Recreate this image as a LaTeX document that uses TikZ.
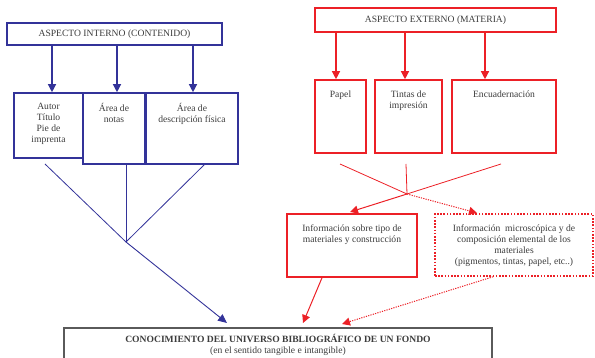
\documentclass[tikz,border=0pt]{standalone}
\usepackage{fontspec}
\setmainfont{Liberation Serif}
\usetikzlibrary{arrows.meta}
\definecolor{azul}{RGB}{51,51,153}
\definecolor{rojo}{RGB}{236,32,38}
\definecolor{gris}{RGB}{90,90,90}
\definecolor{texto}{RGB}{60,60,60}
\begin{document}
\begin{tikzpicture}[x=1pt,y=-1pt,
  font=\fontsize{9.6}{11}\selectfont, text=texto,
  box/.style={rectangle, inner sep=0pt, line width=1.6pt},
  bbox/.style={box, draw=azul},
  rbox/.style={box, draw=rojo},
  rdbox/.style={box, draw=rojo, dash pattern=on 1.6pt off 1.6pt},
  toptext/.style={label={[anchor=north, yshift=-9pt, align=center, text=texto, inner sep=2pt]north:#1}},
  barr/.style={draw=azul, line width=1.3pt, -{Triangle[length=8pt,width=8pt]}},
  bline/.style={draw=azul, line width=0.8pt},
  rarr/.style={draw=rojo, line width=1.3pt, -{Triangle[length=8pt,width=8pt]}},
  rline/.style={draw=rojo, line width=0.8pt},
  rarr2/.style={draw=rojo, line width=1pt, -{Triangle[length=8pt,width=8pt]}},
  rdarr/.style={draw=rojo, line width=1pt, dash pattern=on 1.2pt off 1.2pt, -{Triangle[length=8pt,width=8pt]}},
  bjarr/.style={draw=azul, line width=0.9pt, -{Triangle[length=9pt,width=8pt]}}]
\useasboundingbox (0,0) rectangle (595,358);

% Blue side
\node[bbox, minimum width=215pt, minimum height=22pt] (ai) at (114.5,34) {ASPECTO INTERNO (CONTENIDO)};
\node[bbox, minimum width=69pt, minimum height=65pt, toptext={Autor\\Título\\Pie de\\imprenta}] (b1) at (48.5,125.5) {};
\node[bbox, minimum width=62pt, minimum height=71pt, toptext={Área de\\notas}] (b2) at (114,128.5) {};
\node[bbox, minimum width=92pt, minimum height=71pt, toptext={Área de\\descripción física}] (b3) at (192,128.5) {};

\draw[barr] (ai.south -| 52,0) -- (b1.north -| 52,0);
\draw[barr] (ai.south -| 117,0) -- (b2.north -| 117,0);
\draw[barr] (ai.south -| 193,0) -- (b3.north -| 193,0);

\coordinate (bs1) at (45,164);
\coordinate (bs2) at (126,164);
\coordinate (bs3) at (205,164);
\coordinate (bj) at (126,242);
\draw[bline] (bs1) -- (bj);
\draw[bline] (bs2) -- (bj);
\draw[bline] (bs3) -- (bj);

% Red side
\node[rbox, minimum width=241pt, minimum height=24pt] (ae) at (435.5,20) {ASPECTO EXTERNO (MATERIA)};
\node[rbox, minimum width=51pt, minimum height=73pt, toptext={Papel}] (r1) at (340.5,116.5) {};
\node[rbox, minimum width=67pt, minimum height=73pt, toptext={Tintas de\\impresión}] (r2) at (408.5,116.5) {};
\node[rbox, minimum width=104pt, minimum height=73pt, toptext={Encuadernación}] (r3) at (504,116.5) {};

\draw[rarr] (ae.south -| 336,0) -- (r1.north -| 336,0);
\draw[rarr] (ae.south -| 405,0) -- (r2.north -| 405,0);
\draw[rarr] (ae.south -| 485,0) -- (r3.north -| 485,0);

\coordinate (rs1) at (340,164);
\coordinate (rs2) at (406,164);
\coordinate (rs3) at (501,164);
\coordinate (rj) at (407,194);
\draw[rline] (rs1) -- (rj);
\draw[rline] (rs2) -- (rj);
\draw[rline] (rs3) -- (rj);

\node[rbox, minimum width=130pt, minimum height=63pt,
  toptext={Información sobre tipo de\\materiales y construcción}] (i1) at (352,245.5) {};
\node[rdbox, minimum width=158pt, minimum height=62pt,
  toptext={Información \ microscópica y de\\composición elemental de los\\materiales\\(pigmentos, tintas, papel, etc..)}] (i2) at (514,245) {};

\coordinate (t1) at (350,212);
\coordinate (t2) at (477,213);
\draw[rarr2] (rj) -- (t1);
\draw[rdarr] (rj) -- (t2);

% Bottom
\node[box, draw=gris, line width=1.2pt, minimum width=428pt, minimum height=40pt] (cu) at (278,348) {};
\node[anchor=north, align=center, text=texto, inner sep=2pt, yshift=-5pt] (cut) at (cu.north) {\textbf{CONOCIMIENTO DEL UNIVERSO BIBLIOGRÁFICO DE UN FONDO}\\(en el sentido tangible e intangible)};

\coordinate (c1) at (227,323);
\coordinate (c2) at (303,323);
\coordinate (c3) at (342,324);
\draw[bjarr] (bj) -- (c1);
\draw[rarr2] (i1.south -| 322,0) -- (c2);
\draw[rdarr] (i2.south -| 493,0) -- (c3);
\end{tikzpicture}
\end{document}
